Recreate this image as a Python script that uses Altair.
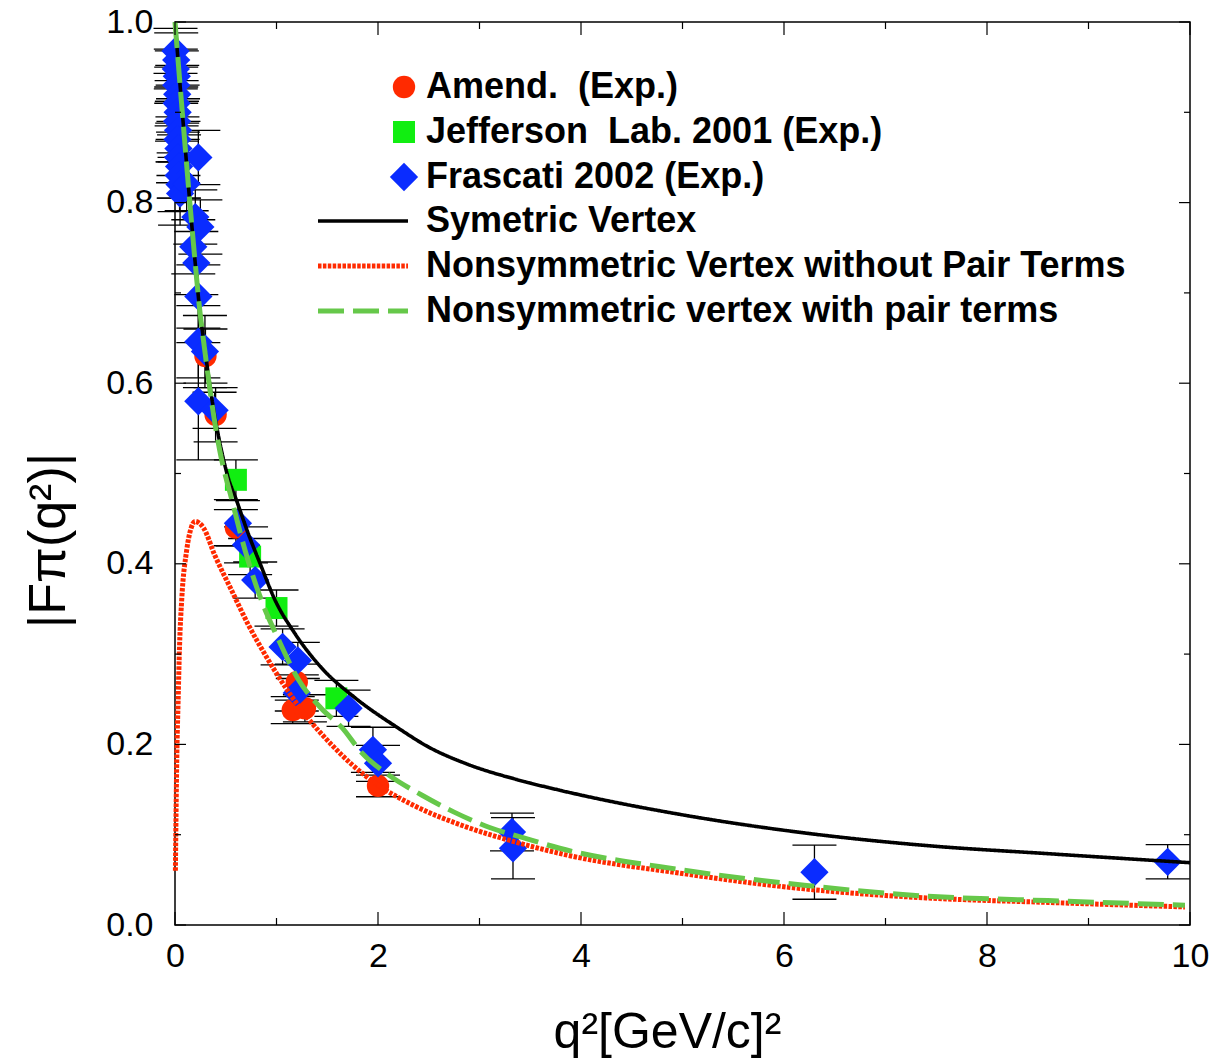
import altair as alt
import pandas as pd

# ---------------- data ----------------
amend_q = [0.30, 0.40, 0.60, 1.20, 1.16, 1.28, 2.00]
amend_f = [0.630, 0.565, 0.440, 0.269, 0.238, 0.240, 0.154]
amend_e = [0.030, 0.030, 0.020, 0.020, 0.015, 0.015, 0.012]

jlab_q = [0.60, 0.74, 1.00, 1.59]
jlab_f = [0.493, 0.408, 0.351, 0.251]
jlab_e = [0.022, 0.020, 0.020, 0.020]

fras_q = [0.005, 0.012, 0.008, 0.018, 0.012, 0.022, 0.016, 0.026, 0.020, 0.030,
          0.024, 0.034, 0.030, 0.040, 0.036, 0.045, 0.050,
          0.115, 0.23, 0.20, 0.25, 0.18, 0.21, 0.23, 0.23, 0.295, 0.23, 0.39,
          0.62, 0.70, 0.79, 1.06, 1.21, 1.20, 1.71, 1.95, 2.00, 3.32, 3.33, 6.30, 9.78]
fras_f = [0.968, 0.958, 0.948, 0.940, 0.930, 0.920, 0.910, 0.900, 0.890, 0.880,
          0.870, 0.860, 0.850, 0.840, 0.830, 0.820, 0.810,
          0.821, 0.850, 0.784, 0.773, 0.751, 0.733, 0.696, 0.646, 0.635, 0.580, 0.570,
          0.445, 0.421, 0.382, 0.308, 0.293, 0.257, 0.240, 0.194, 0.179, 0.103, 0.085, 0.0585, 0.070]
fras_e = [0.025, 0.030, 0.022, 0.028, 0.020, 0.032, 0.025, 0.030, 0.022, 0.035,
          0.025, 0.030, 0.028, 0.035, 0.025, 0.030, 0.035,
          0.030, 0.030, 0.030, 0.030, 0.030, 0.035, 0.035, 0.040, 0.040, 0.065, 0.020,
          0.025, 0.020, 0.020, 0.020, 0.020, 0.020, 0.020, 0.025, 0.020, 0.021, 0.034, 0.030, 0.019]

sym_q = [0, 0.05, 0.10, 0.15, 0.20, 0.24, 0.295, 0.36, 0.44, 0.52, 0.61, 0.72, 0.85, 0.985,
         1.18, 1.45, 1.77, 2.20, 2.50, 2.86, 3.37, 3.80, 5.00, 6.20, 7.40, 8.60, 10.0]
sym_f = [1.0, 0.930, 0.862, 0.795, 0.732, 0.685, 0.637, 0.585, 0.535, 0.497, 0.469, 0.434, 0.397, 0.360,
         0.323, 0.284, 0.252, 0.218, 0.197, 0.179, 0.161, 0.149, 0.122, 0.102, 0.088, 0.079, 0.069]

nopair_q = [0.004, 0.012, 0.020, 0.030, 0.045, 0.066, 0.115, 0.16, 0.197, 0.24, 0.28, 0.39, 0.56,
            0.72, 0.90, 1.02, 1.15, 1.31, 1.54, 1.74, 2.00, 2.36, 2.86, 3.35, 3.84, 5.0, 6.2, 7.4, 8.6, 9.95]
nopair_f = [0.060, 0.140, 0.200, 0.245, 0.310, 0.360, 0.415, 0.440, 0.447, 0.445, 0.440, 0.410, 0.370,
            0.333, 0.297, 0.275, 0.253, 0.229, 0.200, 0.178, 0.155, 0.132, 0.109, 0.092, 0.078,
            0.057, 0.040, 0.030, 0.025, 0.020]

pair_q = [0, 0.05, 0.10, 0.15, 0.20, 0.24, 0.295, 0.36, 0.44, 0.56, 0.69, 0.85, 1.02, 1.22, 1.44,
          1.65, 1.83, 2.12, 2.43, 2.75, 3.10, 3.42, 3.79, 5.0, 6.2, 7.4, 8.6, 9.95]
pair_f = [1.0, 0.930, 0.862, 0.795, 0.732, 0.685, 0.635, 0.580, 0.526, 0.471, 0.415, 0.360, 0.316,
          0.271, 0.240, 0.218, 0.192, 0.165, 0.144, 0.125, 0.108, 0.097, 0.085, 0.061, 0.044,
          0.032, 0.027, 0.022]

x_major = [0, 2, 4, 6, 8, 10]
x_minor = [1, 3, 5, 7, 9]
y_major = [0.0, 0.2, 0.4, 0.6, 0.8, 1.0]
y_minor = [0.1, 0.3, 0.5, 0.7, 0.9]

series_names = ["Amend.\u00a0\u00a0(Exp.)", "Jefferson\u00a0\u00a0Lab. 2001 (Exp.)", "\u00a0Frascati 2002 (Exp.)"]
series_colors = ["#ff2a00", "#11ee11", "#0a2cff"]
series_shapes = ["circle", "square", "diamond"]
series_sizes = [500, 484, 800]
model_names = ["Symetric Vertex", "Nonsymmetric Vertex without Pair Terms", "Nonsymmetric vertex with pair terms"]
model_colors = ["#000000", "#ff2a00", "#66c84a"]
model_dashes = [[1, 0], [3.5, 1.4], [26, 9]]
model_widths = [3.6, 5.0, 5.0]

# ---------------- tables ----------------
rows = []
for name, qs, fs, es in [(series_names[0], amend_q, amend_f, amend_e),
                         (series_names[1], jlab_q, jlab_f, jlab_e),
                         (series_names[2], fras_q, fras_f, fras_e)]:
    for q, f, e in zip(qs, fs, es):
        rows.append({"series": name, "q": q, "F": f, "lo": f - e, "hi": f + e})
pts = pd.DataFrame(rows)

lrows = []
for name, qs, fs in [(model_names[0], sym_q, sym_f),
                     (model_names[1], nopair_q, nopair_f),
                     (model_names[2], pair_q, pair_f)]:
    for q, f in zip(qs, fs):
        lrows.append({"model": name, "q": q, "F": f})
lines = pd.DataFrame(lrows)

W, H = 1015, 903
FONT = "Liberation Sans"

xs = alt.Scale(domain=[0, 10], nice=False, zero=False)
ys = alt.Scale(domain=[0, 1], nice=False, zero=False)

x_axis = alt.Axis(values=x_major, format="d", title="q²[GeV/c]²", ticks=False, domain=False, grid=False,
                  labelFontSize=34, labelFont=FONT, labelColor="black", labelPadding=14,
                  labelFlush=False, labelOverlap=False,
                  titleFontSize=50, titleFont=FONT, titleFontWeight="normal", titleColor="black",
                  titleX=492, titleY=122, titleAlign="center", titleBaseline="alphabetic")
y_axis = alt.Axis(values=y_major, format=".1f", title="|Fπ(q²)|", ticks=False, domain=False, grid=False,
                  labelFontSize=34, labelFont=FONT, labelColor="black", labelPadding=22,
                  labelFlush=False, labelOverlap=False,
                  titleFontSize=52, titleFont=FONT, titleFontWeight="normal", titleColor="black",
                  titleAngle=270, titleX=-111, titleY=518, titleAlign="center", titleBaseline="alphabetic")

X = alt.X("q:Q", scale=xs, axis=x_axis)
Y = alt.Y("F:Q", scale=ys, axis=y_axis)

base_pts = alt.Chart(pts)

err_v = base_pts.mark_rule(color="black", strokeWidth=1.3).encode(
    x=X, y=alt.Y("lo:Q", scale=ys, axis=y_axis), y2="hi:Q")
cap_lo = base_pts.mark_rule(color="black", strokeWidth=1.3, xOffset=-22, x2Offset=22).encode(
    x=X, x2="q:Q", y=alt.Y("lo:Q", scale=ys, axis=y_axis))
cap_hi = base_pts.mark_rule(color="black", strokeWidth=1.3, xOffset=-22, x2Offset=22).encode(
    x=X, x2="q:Q", y=alt.Y("hi:Q", scale=ys, axis=y_axis))

L1 = alt.Legend(title=None, orient="none", legendX=211, legendY=47, padding=0,
                labelFontSize=36, labelFontWeight="bold", labelFont=FONT, labelColor="black",
                labelOffset=4, labelLimit=1000, rowPadding=9, symbolStrokeWidth=0)
points = base_pts.mark_point(filled=True, opacity=1, strokeWidth=0).encode(
    x=X, y=Y,
    color=alt.Color("series:N", scale=alt.Scale(domain=series_names, range=series_colors), legend=L1),
    shape=alt.Shape("series:N", scale=alt.Scale(domain=series_names, range=series_shapes), legend=L1),
    size=alt.Size("series:N", scale=alt.Scale(type="ordinal", domain=series_names, range=series_sizes), legend=L1),
)

# legend line symbol: a horizontal segment three times wider than the symbol box
L2 = alt.Legend(title=None, orient="none", legendX=170, legendY=181, padding=0,
                symbolType="M-3,0L3,0", symbolSize=900,
                labelFontSize=36, labelFontWeight="bold", labelFont=FONT, labelColor="black",
                labelOffset=45, labelLimit=1000, rowPadding=9)
curves = alt.Chart(lines).mark_line(strokeCap="butt", interpolate="monotone").encode(
    x=X, y=Y,
    color=alt.Color("model:N", scale=alt.Scale(domain=model_names, range=model_colors), legend=L2),
    strokeDash=alt.StrokeDash("model:N", scale=alt.Scale(domain=model_names, range=model_dashes), legend=L2),
    strokeWidth=alt.StrokeWidth("model:N", scale=alt.Scale(type="ordinal", domain=model_names, range=model_widths), legend=L2),
)

# inward ticks on all four sides
def vdf(v):
    return pd.DataFrame({"v": v})

XV = alt.X("v:Q", scale=xs, axis=x_axis)
YV = alt.Y("v:Q", scale=ys, axis=y_axis)
tick_layers = []
for vals, ln in [(x_major, 13), (x_minor, 7)]:
    tick_layers.append(alt.Chart(vdf(vals)).mark_rule(color="black", strokeWidth=1.2).encode(
        x=XV, y=alt.value(H), y2=alt.value(H - ln)))
    tick_layers.append(alt.Chart(vdf(vals)).mark_rule(color="black", strokeWidth=1.2).encode(
        x=XV, y=alt.value(0), y2=alt.value(ln)))
for vals, ln in [(y_major, 11), (y_minor, 6)]:
    tick_layers.append(alt.Chart(vdf(vals)).mark_rule(color="black", strokeWidth=1.2).encode(
        y=YV, x=alt.value(0), x2=alt.value(ln)))
    tick_layers.append(alt.Chart(vdf(vals)).mark_rule(color="black", strokeWidth=1.2).encode(
        y=YV, x=alt.value(W), x2=alt.value(W - ln)))

chart = alt.layer(err_v, cap_lo, cap_hi, points, curves, *tick_layers).resolve_scale(
    color="independent", shape="independent", size="independent",
    strokeDash="independent", strokeWidth="independent"
).properties(
    width=W, height=H,
    padding={"left": 175, "top": 22, "right": 35, "bottom": 139},
    autosize=alt.AutoSizeParams(type="none"),
).configure(
    background="white", font=FONT
).configure_view(
    stroke="black", strokeWidth=1.5
)

chart.save("out.html", embed_options={"renderer": "svg", "actions": False})
